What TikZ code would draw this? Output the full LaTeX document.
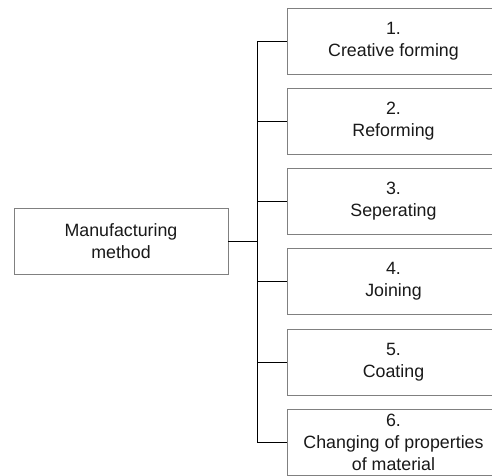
\documentclass[tikz,border=0pt]{standalone}
\usepackage{fontspec}
\setmainfont{Liberation Sans}
\begin{document}
\begin{tikzpicture}[x=1bp,y=-1bp,
  box/.style={draw=black!50,line width=0.8bp,fill=white,align=center,inner sep=0pt,
    font=\fontsize{17.8bp}{22bp}\selectfont,text=black!90},
  leftbox/.style={box,minimum width=214bp,minimum height=66bp},
  rightbox/.style={box,minimum width=213bp,minimum height=66bp},
  conn/.style={draw=black,line width=0.9bp}]
\useasboundingbox (0,0) rectangle (492,476);
\node[leftbox] (m) at (121,241) {Manufacturing\\method};
\node[rightbox] (b1) at (393.5,41) {1.\\Creative forming};
\node[rightbox] (b2) at (393.5,121) {2.\\Reforming};
\node[rightbox] (b3) at (393.5,201.5) {3.\\Seperating};
\node[rightbox] (b4) at (393.5,281.5) {4.\\Joining};
\node[rightbox] (b5) at (393.5,362) {5.\\Coating};
\node[rightbox] (b6) at (393.5,442) {6.\\Changing of properties\\of material};
\coordinate (j) at (257,241);
\draw[conn] (m.east) -- (j);
\foreach \b in {b1,b2,b3,b4,b5,b6}{\draw[conn] (\b.west) -| (j);}
\end{tikzpicture}
\end{document}
